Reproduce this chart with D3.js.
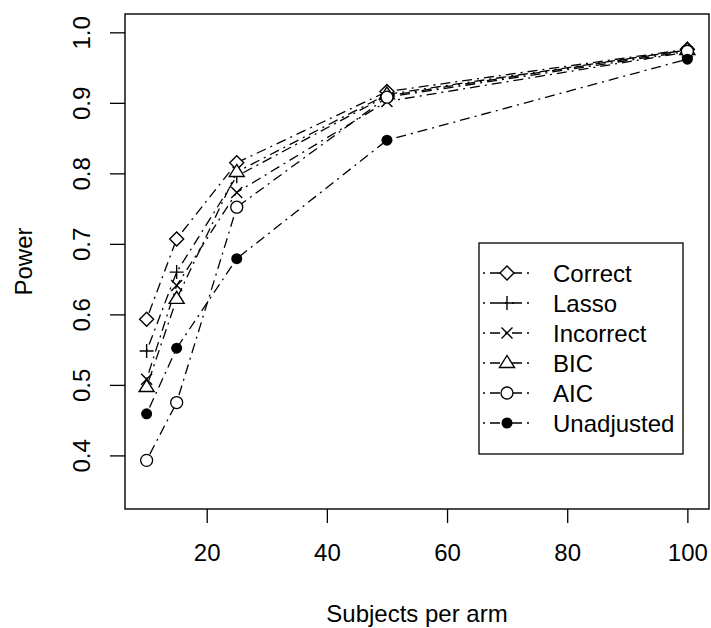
<!DOCTYPE html>
<html>
<head>
<meta charset="utf-8">
<script src="https://cdn.jsdelivr.net/npm/d3@7"></script>
<style>
  body { margin: 0; background: #fff; }
  text { font-family: "Liberation Sans", Arial, sans-serif; fill: #000; }
</style>
</head>
<body>
<div id="chart"></div>
<script>
// data
const subjects = [10, 15, 25, 50, 100];
const seriesNames = ["Correct", "Lasso", "Incorrect", "BIC", "AIC", "Unadjusted"];
const correctPower    = [0.593, 0.707, 0.815, 0.916, 0.976];
const lassoPower      = [0.548, 0.660, 0.796, 0.910, 0.975];
const incorrectPower  = [0.508, 0.641, 0.773, 0.902, 0.972];
const bicPower        = [0.497, 0.622, 0.802, 0.912, 0.975];
const aicPower        = [0.393, 0.475, 0.752, 0.908, 0.973];
const unadjustedPower = [0.459, 0.552, 0.679, 0.847, 0.962];
const seriesSymbols = ["diamond", "plus", "cross", "triangle", "circle", "dot"];
const xTicks = [20, 40, 60, 80, 100];
const yTicks = [0.4, 0.5, 0.6, 0.7, 0.8, 0.9, 1.0];

const allPower = [correctPower, lassoPower, incorrectPower, bicPower, aicPower, unadjustedPower];

const W = 711, H = 628;
const box = {left: 125, right: 709, top: 14, bottom: 509};
const FONT = "24px";

const svg = d3.select("#chart").append("svg")
  .attr("width", W).attr("height", H);

// R style: 4% padding on each side
const x = d3.scaleLinear().domain([6.4, 103.6]).range([box.left, box.right]);
const y = d3.scaleLinear().domain([0.324, 1.026]).range([box.bottom, box.top]);

// x axis
const xAxis = svg.append("g")
  .attr("transform", "translate(0," + box.bottom + ")")
  .call(d3.axisBottom(x).tickValues(xTicks).tickSize(14).tickPadding(21).tickFormat(d3.format("d")));
xAxis.select(".domain").remove();
xAxis.selectAll("line").attr("stroke", "#000").attr("stroke-width", 1.3);
xAxis.selectAll("text").style("font-size", FONT).style("font-family", "'Liberation Sans', Arial, sans-serif").attr("fill", "#000");

// y axis, labels parallel to the axis like R's las=0
const yAxis = svg.append("g")
  .attr("transform", "translate(" + box.left + ",0)")
  .call(d3.axisLeft(y).tickValues(yTicks).tickSize(15).tickFormat(d3.format(".1f")));
yAxis.select(".domain").remove();
yAxis.selectAll("line").attr("stroke", "#000").attr("stroke-width", 1.3);
yAxis.selectAll("text")
  .style("font-size", FONT).style("font-family", "'Liberation Sans', Arial, sans-serif").attr("fill", "#000")
  .attr("x", 0).attr("dy", null)
  .attr("text-anchor", "middle")
  .attr("transform", "translate(-43,0) rotate(-90)")
  .attr("y", 8);

// plot box
svg.append("rect")
  .attr("x", box.left).attr("y", box.top)
  .attr("width", box.right - box.left).attr("height", box.bottom - box.top)
  .attr("fill", "none").attr("stroke", "#000").attr("stroke-width", 1.4);

// axis titles
svg.append("text").attr("x", (box.left + box.right) / 2).attr("y", 622).attr("text-anchor", "middle")
  .style("font-size", FONT).text("Subjects per arm");
svg.append("text").attr("transform", "translate(32," + (box.top + box.bottom) / 2 + ") rotate(-90)")
  .attr("text-anchor", "middle")
  .style("font-size", FONT).text("Power");

function drawSymbol(g, kind, cx, cy) {
  const s = 7;
  if (kind === "diamond") {
    g.append("path").attr("d", `M${cx},${cy - s}L${cx + s},${cy}L${cx},${cy + s}L${cx - s},${cy}Z`)
      .attr("fill", "#fff").attr("stroke", "#000").attr("stroke-width", 1.4);
  } else if (kind === "plus") {
    g.append("path").attr("d", `M${cx - s},${cy}H${cx + s}M${cx},${cy - s}V${cy + s}`)
      .attr("stroke", "#000").attr("stroke-width", 1.4);
  } else if (kind === "cross") {
    const c = 5.5;
    g.append("path").attr("d", `M${cx - c},${cy - c}L${cx + c},${cy + c}M${cx - c},${cy + c}L${cx + c},${cy - c}`)
      .attr("stroke", "#000").attr("stroke-width", 1.4);
  } else if (kind === "triangle") {
    const t = 7.5;
    g.append("path").attr("d", `M${cx},${cy - t}L${cx + t},${cy + t * 0.6}L${cx - t},${cy + t * 0.6}Z`)
      .attr("fill", "#fff").attr("stroke", "#000").attr("stroke-width", 1.4);
  } else if (kind === "circle") {
    g.append("circle").attr("cx", cx).attr("cy", cy).attr("r", 6)
      .attr("fill", "#fff").attr("stroke", "#000").attr("stroke-width", 1.3);
  } else if (kind === "dot") {
    g.append("circle").attr("cx", cx).attr("cy", cy).attr("r", 5.5).attr("fill", "#000");
  }
}

const dash = "2,5,10,5";
const line = d3.line().x(d => x(d[0])).y(d => y(d[1]));

const plotG = svg.append("g");
allPower.forEach((vals, i) => {
  const pts = subjects.map((s, j) => [s, vals[j]]);
  plotG.append("path").datum(pts).attr("d", line)
    .attr("fill", "none").attr("stroke", "#000").attr("stroke-width", 1.3)
    .attr("stroke-dasharray", dash);
});
allPower.forEach((vals, i) => {
  subjects.forEach((s, j) => drawSymbol(plotG, seriesSymbols[i], x(s), y(vals[j])));
});

// legend
const lg = svg.append("g");
lg.append("rect").attr("x", 479).attr("y", 243).attr("width", 204).attr("height", 211)
  .attr("fill", "#fff").attr("stroke", "#000").attr("stroke-width", 1.3);
seriesNames.forEach((name, i) => {
  const cy = 273 + i * 30;
  lg.append("line").attr("x1", 483).attr("x2", 530).attr("y1", cy).attr("y2", cy)
    .attr("stroke", "#000").attr("stroke-width", 1.3).attr("stroke-dasharray", dash);
  drawSymbol(lg, seriesSymbols[i], 507, cy);
  lg.append("text").attr("x", 553).attr("y", cy + 8.5).style("font-size", FONT).text(name);
});
</script>
</body>
</html>
